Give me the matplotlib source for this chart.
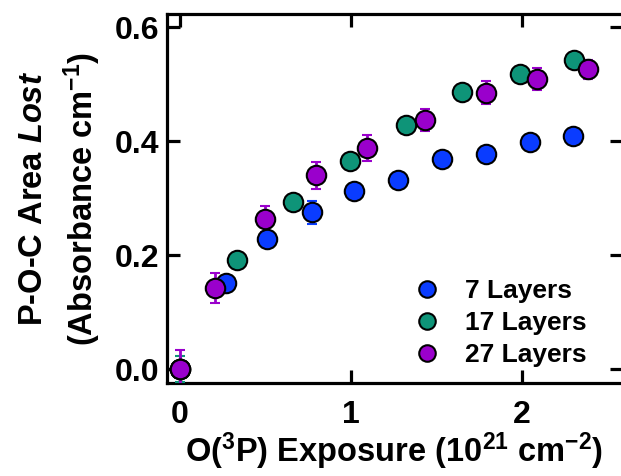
import matplotlib
matplotlib.use("Agg")
import matplotlib.pyplot as plt

plt.rcParams['font.family'] = ['Liberation Sans', 'DejaVu Sans']
plt.rcParams['mathtext.fontset'] = 'custom'
plt.rcParams['mathtext.rm'] = 'Liberation Sans:bold'
plt.rcParams['mathtext.bf'] = 'Liberation Sans:bold'
plt.rcParams['mathtext.it'] = 'Liberation Sans:bold:italic'
plt.rcParams['mathtext.bfit'] = 'Liberation Sans:bold:italic'

# Data
x7 = [0.0, 0.267, 0.511, 0.774, 1.021, 1.277, 1.532, 1.789, 2.045, 2.298]
y7 = [0.0, 0.151, 0.228, 0.275, 0.312, 0.332, 0.368, 0.377, 0.399, 0.409]
e7 = [0.015, 0.008, 0.010, 0.020, 0.010, 0.008, 0.008, 0.008, 0.008, 0.008]

x17 = [0.0, 0.331, 0.659, 0.992, 1.320, 1.651, 1.988, 2.308]
y17 = [0.0, 0.191, 0.293, 0.365, 0.428, 0.486, 0.517, 0.543]
e17 = [0.023, 0.008, 0.008, 0.008, 0.008, 0.008, 0.008, 0.008]

x27 = [0.0, 0.207, 0.499, 0.797, 1.094, 1.433, 1.791, 2.088, 2.386]
y27 = [0.0, 0.143, 0.263, 0.340, 0.388, 0.437, 0.485, 0.509, 0.526]
e27 = [0.034, 0.026, 0.023, 0.023, 0.022, 0.020, 0.020, 0.020, 0.017]

labels = ['7 Layers', '17 Layers', '27 Layers']
colors = ['#0A3CFF', '#0E9478', '#9A00CC']

xticks = [0, 1, 2]
yticks = [0.0, 0.2, 0.4, 0.6]
yticklabels = ['0.0', '0.2', '0.4', '0.6']

fig = plt.figure(figsize=(6.21, 4.76), dpi=100)
ax = fig.add_axes([0.2684, 0.1947, 1.003 - 0.2684, 0.9706 - 0.1947])

series = [(x7, y7, e7), (x17, y17, e17), (x27, y27, e27)]
for (xs, ys, es), lab, c in zip(series, labels, colors):
    ax.errorbar(xs, ys, yerr=es, fmt='o', color=c, ecolor=c, elinewidth=2.0,
                capsize=3.5, capthick=2.0, markersize=14, markeredgecolor='black',
                markeredgewidth=1.5, label=lab, zorder=3)

ax.set_xlim(-0.0778, 2.591)
ax.set_ylim(-0.0246, 0.623)
ax.set_xticks(xticks)
ax.set_xticklabels([str(t) for t in xticks])
ax.set_yticks(yticks)
ax.set_yticklabels(yticklabels)

for s in ax.spines.values():
    s.set_linewidth(2.3)
ax.tick_params(direction='in', length=9.5, width=2.3, top=True, right=True,
               labelsize=23)
ax.tick_params(axis='x', pad=12)
ax.tick_params(axis='y', pad=5)
for lbl in ax.get_xticklabels() + ax.get_yticklabels():
    lbl.set_fontweight('bold')

ax.set_xlabel(r'O($^{\mathbf{3}}$P) Exposure (10$^{\mathbf{21}}$ cm$^{\mathbf{-2}}$)',
              fontsize=23.5, fontweight='bold')
ax.xaxis.set_label_coords(0.499, -0.128)
ax.set_ylabel('P-O-C Area $\\mathit{Lost}$\n(Absorbance cm$^{\\mathbf{-1}}$)',
              fontsize=23.5, fontweight='bold', linespacing=1.4)
ax.yaxis.set_label_coords(-0.139, 0.5)

handles, labs = ax.get_legend_handles_labels()
handles = [h[0] for h in handles]
leg = ax.legend(handles, labs, loc='upper left', frameon=False,
                prop={'weight': 'bold', 'size': 19}, markerscale=0.85,
                handlelength=1.0, handletextpad=0.94, borderpad=0.0,
                borderaxespad=0.0, labelspacing=0.31,
                bbox_to_anchor=(0.5415, 0.2825))

fig.savefig('out.png', dpi=100)
